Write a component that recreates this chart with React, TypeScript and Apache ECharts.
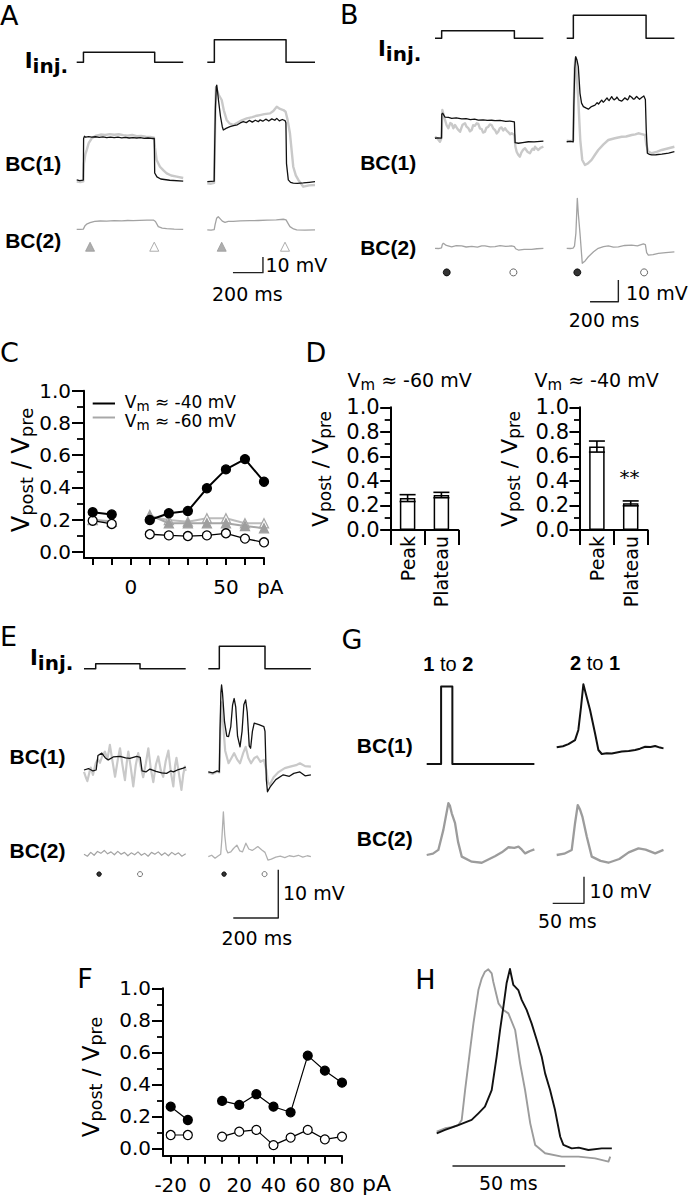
import React, { useEffect, useRef } from "react";
import * as echarts from "echarts";

type P = [number, number];

/* ================= Panel A (time ms, voltage mV, current pA) ================= */
const aInjLeft: P[] = [[0, 0], [45, 0], [45, 20], [520, 20], [520, 0], [710, 0]];
const aInjRight: P[] = [[0, 0], [47, 0], [47, 45], [525, 45], [525, 0], [718, 0]];
const aBc1LeftBlack: P[] = [[0,-60.4],[20,-60.8],[44,-60.5],[46,-34],[52,-32.6],[60,-33.2],[80,-32.8],[100,-33.2],[125,-32.9],[150,-33.3],[175,-33],[200,-33.4],[225,-33.1],[250,-33.5],[275,-33.2],[300,-33.6],[325,-33.3],[350,-33.7],[375,-33.4],[400,-33.7],[425,-33.5],[450,-33.9],[475,-33.7],[500,-34],[517,-34],[520,-56],[535,-58.5],[560,-59.8],[620,-60.6],[710,-61.2]];
const aBc1LeftGray: P[] = [[0,-61.5],[25,-61.8],[44,-61.3],[48,-50],[58,-44],[67,-41.3],[80,-37],[100,-33.9],[130,-32.2],[160,-31.5],[190,-31.8],[220,-31.2],[250,-31.6],[280,-31.3],[310,-31.9],[340,-32.2],[370,-31.8],[400,-32.5],[430,-32.4],[460,-32.9],[490,-33],[515,-33.5],[522,-40],[533,-47.7],[555,-52],[580,-54.5],[600,-56.2],[630,-57.6],[667,-58.3],[710,-59.2]];
const aBc1RightBlack: P[] = [[0,-61.5],[25,-61.3],[46,-61.2],[49,-40],[54,-15],[60,-1],[63,0],[67,-3],[75,-10],[88,-20],[100,-26.5],[107,-28.6],[125,-27.6],[151,-26.5],[175,-25.8],[200,-25.3],[220,-24.1],[240,-23.3],[260,-23.9],[280,-22.5],[300,-23.6],[320,-22.4],[340,-23.3],[351,-22.2],[370,-23],[390,-21.7],[410,-22.9],[430,-21.5],[450,-22.4],[463,-21.2],[480,-22.8],[500,-21.9],[518,-22.6],[524,-24],[528,-50],[540,-60.4],[555,-62],[573,-62.5],[600,-62.6],[640,-62.3],[680,-61.9],[718,-61.5]];
const aBc1RightGray: P[] = [[0,-62.5],[25,-62.8],[45,-62.3],[49,-45],[54,-12],[58,-1.4],[64,-3],[75,-6],[96,-9.5],[110,-16],[129,-22.2],[150,-24.6],[173,-25.4],[200,-24],[230,-22.4],[263,-21.2],[300,-20.4],[330,-19.5],[351,-19.1],[380,-18.5],[418,-18],[440,-16.5],[463,-13.8],[485,-15.2],[507,-15.9],[522,-17],[535,-22],[551,-30.7],[573,-52],[590,-57.5],[607,-60.4],[640,-64.7],[680,-63.9],[718,-63.6]];
const aBc2Left: P[] = [[0,-60],[25,-60.1],[44,-59.9],[55,-57.8],[70,-56.5],[89,-55.8],[120,-55],[156,-54.7],[200,-54.8],[250,-54.5],[300,-54.6],[340,-54.4],[376,-54.5],[420,-54.3],[470,-54.2],[511,-54.1],[525,-55],[544,-58.3],[570,-59.2],[600,-59.6],[650,-59.9],[710,-60]];
const aBc2Right: P[] = [[0,-60.4],[25,-60.5],[46,-60.2],[52,-57],[62,-53],[73,-52],[85,-53.2],[100,-54.8],[118,-55.6],[140,-55],[173,-54.9],[220,-54.6],[284,-54.5],[340,-54.4],[400,-54.2],[460,-54],[507,-53.6],[525,-54],[540,-56.5],[551,-58.3],[575,-59.8],[596,-60.4],[650,-60.5],[718,-60.4]];
const aPeakMarks = [89, 96];
const aPlateauMarks = [517, 518];

/* ================= Panel B ================= */
const bInjLeft: P[] = [[0, 0], [47, 0], [47, 15], [561, 15], [561, 0], [766, 0]];
const bInjRight: P[] = [[0, 0], [47, 0], [47, 46], [561, 46], [561, 0], [761, 0]];
const bBc1LeftBlack: P[] = [[0,-44.2],[20,-44],[46,-44.1],[48,-33],[55,-32.7],[71,-34.5],[95,-34.6],[118,-35],[150,-34.8],[189,-35.3],[220,-35.2],[250,-35.6],[280,-35.4],[306,-35.8],[340,-35.7],[370,-36],[400,-35.9],[424,-36.1],[460,-36],[500,-36.4],[530,-36.3],[561,-36.6],[566,-46.2],[589,-46.5],[620,-46.2],[660,-45.8],[700,-45.9],[766,-45.5]];
const bBc1LeftGray: P[] = [[0,-43.5],[20,-44.5],[35,-45.8],[46,-44],[52,-31.2],[63,-34],[71,-35.8],[82,-38.2],[94,-39.6],[108,-37.2],[118,-37.5],[130,-39.6],[141,-38.1],[152,-39.2],[160,-40],[177,-41.2],[186,-39.5],[195,-38],[212,-37.3],[222,-38.8],[235,-39.5],[247,-41],[259,-40.4],[270,-38.2],[280,-38.5],[295,-37.3],[306,-37.6],[318,-39.7],[330,-40],[340,-41.6],[353,-41.2],[363,-39.4],[375,-39],[388,-37.8],[400,-38.1],[413,-39.8],[425,-40.5],[436,-42],[447,-41.2],[458,-39.6],[470,-39.2],[482,-40.6],[495,-39.6],[508,-40.8],[520,-41.5],[531,-42.4],[542,-41.9],[561,-42.7],[568,-48],[577,-50.4],[588,-51.8],[600,-52.7],[610,-50.8],[618,-50],[628,-49.2],[636,-48.8],[646,-49.7],[655,-50.5],[671,-51.1],[680,-50],[690,-49],[700,-49.5],[707,-48.1],[718,-48.9],[730,-49.6],[745,-48.6],[766,-48.1]];
const bBc1RightBlack: P[] = [[0,-45.8],[25,-45.6],[46,-45.9],[50,-30],[57,-12],[64,-6.6],[72,-8],[82,-11.2],[94,-23.5],[105,-28],[118,-29.6],[135,-30.2],[153,-30.8],[175,-29.6],[200,-28.9],[215,-27.8],[225,-28.4],[247,-26.6],[258,-27.6],[265,-27.2],[285,-25.6],[293,-26.4],[300,-26.8],[318,-25],[327,-26],[335,-26.5],[348,-25.9],[355,-25.2],[370,-26.6],[389,-27.1],[402,-26.2],[410,-25.6],[430,-26.5],[437,-25.9],[445,-24.6],[459,-25.3],[472,-26.2],[480,-26],[494,-24.9],[503,-25.5],[515,-26.2],[530,-25.4],[545,-24.7],[556,-26.3],[562,-40],[570,-51.1],[585,-51.6],[601,-51.9],[630,-51.8],[672,-51.5],[720,-51],[761,-50.4]];
const bBc1RightGray: P[] = [[0,-45.3],[25,-45.5],[46,-45.2],[50,-30],[56,-12],[61,-7.3],[68,-12],[82,-26.6],[96,-45],[110,-54.2],[129,-56.5],[150,-55.8],[176,-54.2],[200,-51.8],[223,-49.6],[260,-47],[294,-45],[340,-44.2],[389,-43.5],[420,-43.4],[459,-42.7],[485,-42.4],[506,-41.9],[530,-42.3],[554,-42.7],[562,-47],[577,-50.4],[601,-51.1],[640,-50.4],[672,-49.6],[720,-48.8],[761,-48.1]];
const bBc2Left: P[] = [[0,-60],[25,-60.1],[46,-59.8],[52,-58.2],[59,-57.7],[80,-58.7],[118,-59.3],[150,-58.8],[189,-58.9],[220,-59.4],[260,-59.1],[300,-59.5],[330,-58.9],[353,-58.9],[390,-59.3],[424,-59.2],[460,-58.8],[500,-59.1],[542,-58.9],[561,-59.2],[570,-60.2],[589,-60.8],[630,-60.5],[683,-60.5],[720,-60.2],[766,-60]];
const bBc2Right: P[] = [[0,-60],[25,-60.1],[45,-59.9],[55,-59],[65,-53],[70,-45],[75,-37],[82,-44],[94,-53.1],[110,-66.9],[130,-65.8],[153,-63.9],[190,-61.6],[223,-60],[260,-59.2],[294,-58.9],[330,-59.5],[365,-59.3],[410,-58.7],[459,-58.5],[500,-58.9],[542,-58],[556,-58.3],[565,-62],[577,-63.1],[610,-62.9],[648,-62.3],[700,-62],[761,-61.6]];
const bPeakMarks = [83, 75];
const bPlateauMarks = [554, 547];

/* ================= Panel E ================= */
const eInjLeft: P[] = [[0, 0], [52, 0], [52, 10], [249, 10], [249, 0], [452, 0]];
const eInjRight: P[] = [[0, 0], [49, 0], [49, 45], [252, 45], [252, 0], [456, 0]];
const eBc1LeftBlack: P[] = [[0,-60],[20,-59.7],[40,-60.2],[54,-60],[62,-57],[79,-56.5],[95,-57.5],[108,-57.9],[130,-57.3],[160,-57.2],[185,-57.5],[204,-57.6],[234,-57.2],[250,-57.4],[258,-60.2],[275,-60.4],[293,-59.8],[320,-60.3],[345,-60.6],[367,-60.7],[385,-60.2],[397,-60.4],[420,-59.9],[441,-59.6],[452,-59.4]];
const eBc1LeftGray: P[] = [[0,-60.4],[8,-61.5],[15,-62.3],[24,-60.5],[30,-59.5],[40,-61],[52,-58.6],[62,-57.8],[71,-58.5],[82,-57],[93,-56.2],[104,-57.8],[115,-54.8],[126,-58],[138,-61.4],[149,-58.2],[160,-55.5],[171,-59],[182,-62.1],[190,-58.5],[197,-56.2],[208,-59.5],[219,-63.4],[230,-59],[241,-56.5],[252,-59.3],[263,-61.5],[275,-58.6],[286,-55.5],[297,-59.8],[308,-62.5],[320,-58.8],[330,-57.2],[341,-60],[352,-61.4],[363,-58.2],[375,-56],[386,-60.5],[397,-63.4],[405,-59],[411,-57.5],[422,-60.8],[433,-64.1],[441,-61],[448,-59.3],[452,-60.2]];
const eBc1RightBlack: P[] = [[0,-60.4],[20,-60.6],[40,-60.2],[49,-60.4],[52,-52],[56,-44],[59,-42.4],[63,-44],[72,-50],[82,-53],[90,-53.1],[100,-51],[108,-46.5],[115,-45.2],[122,-47],[130,-53],[141,-55.2],[150,-52],[158,-46.5],[166,-45.5],[173,-48],[182,-55],[188,-55.5],[196,-52],[204,-50.3],[225,-50.6],[247,-51],[252,-52],[258,-62],[263,-64.5],[275,-63.5],[300,-62],[333,-61],[360,-61.3],[380,-60.7],[407,-60.4],[430,-61.2],[456,-61]];
const eBc1RightGray: P[] = [[0,-60.5],[20,-60.8],[40,-60.3],[49,-60.5],[53,-52],[59,-46],[65,-50],[75,-56],[90,-58.6],[103,-57.5],[115,-56.5],[128,-57.8],[141,-58.6],[155,-56.5],[166,-55.2],[178,-57.5],[190,-58.6],[205,-57.5],[217,-57.2],[232,-58.3],[247,-57.9],[258,-60],[265,-62.5],[273,-63.1],[290,-61.5],[310,-60.5],[340,-59.6],[364,-59.3],[390,-59],[407,-58.6],[430,-59.2],[456,-59.3]];
const eBc2Left: P[] = [[0,-60],[15,-60.4],[30,-59.6],[45,-60.2],[60,-59.4],[75,-59.8],[90,-59.2],[105,-59.9],[120,-59.5],[135,-60.1],[150,-59.4],[165,-60],[180,-59.6],[195,-60.3],[210,-59.7],[225,-60.1],[240,-59.5],[255,-60.2],[270,-59.8],[285,-60.4],[300,-59.6],[315,-60],[330,-59.5],[345,-60.2],[360,-59.7],[375,-60.3],[390,-59.6],[405,-60.1],[420,-59.7],[435,-60.4],[452,-59.9]];
const eBc2Right: P[] = [[0,-60.5],[15,-60.2],[30,-60.8],[45,-60.3],[55,-60],[60,-57],[67,-51.2],[73,-56],[80,-59],[87,-59.7],[100,-59.5],[112,-58.8],[127,-58.1],[140,-59.3],[152,-59.5],[167,-57.7],[180,-58.9],[195,-59.2],[208,-58.8],[220,-58.4],[238,-59.1],[252,-59.6],[265,-61.2],[280,-61],[300,-60.6],[320,-60.4],[340,-60.7],[360,-60.3],[380,-60.5],[400,-60.2],[420,-60.6],[440,-60.3],[456,-60.5]];
const ePeakMarks = [67, 70];
const ePlateauMarks = [249, 250];

/* ================= Panel G ================= */
const gPulse12: P[] = [[0, 0], [23, 0], [23, 155], [41, 155], [41, 0], [172, 0]];
const gBc1From2: P[] = [[0,-59],[10,-58.6],[18.7,-57.8],[29.3,-56.3],[34.6,-52.5],[38.9,-43.8],[42.6,-35.4],[46.4,-38.8],[53.3,-45],[61.3,-53.8],[66.6,-60],[72,-61.5],[80,-61.2],[88,-61.3],[96,-60.9],[104,-60.6],[115,-60.4],[125.3,-60],[133,-59.5],[141.3,-58.8],[150,-58.9],[157.3,-58.5],[165,-59.1],[170.6,-59.4]];
const gBc2From1: P[] = [[0,-60],[10,-59.5],[18.6,-58.1],[26.6,-50.6],[34.6,-40.6],[37,-41.5],[40,-44.4],[45.3,-48.1],[50,-55],[56,-60.6],[72,-62.5],[88,-62.9],[109,-60.5],[120,-59],[130.6,-57.1],[140,-57.3],[146.6,-56.9],[152,-58],[157.3,-59.4],[165,-58.5],[172,-57.9]];
const gBc2Own: P[] = [[0,-60],[12,-59.5],[24,-58.1],[29.3,-48.1],[33.6,-41.3],[37.3,-43],[41,-45.6],[48,-53.1],[56,-60.6],[70,-62.2],[82.6,-62.9],[100,-61.5],[115,-59],[130.6,-57.5],[142,-58],[157.3,-59.4],[170.6,-58.1]];

/* ================= Panel H (normalized amplitude) ================= */
const hBc2: P[] = [[0,0.049],[3.7,0.069],[6.7,0.075],[9.6,0.088],[11.1,0.118],[12.6,0.294],[14.8,0.529],[16.3,0.686],[18.5,0.882],[20,0.951],[21.4,0.99],[22.9,1.004],[24.4,0.98],[25.1,0.931],[27.4,0.804],[29.6,0.765],[31.8,0.745],[34.8,0.647],[37,0.451],[39.2,0.294],[41.5,0.098],[43.7,-0.029],[48.1,-0.078],[55.5,-0.098],[62.9,-0.098],[70.3,-0.108],[76.2,-0.127],[77,-0.098]];
const hBc1: P[] = [[0,0.039],[3.7,0.059],[9.6,0.088],[15.5,0.118],[18.5,0.157],[21.4,0.196],[24.4,0.294],[26.6,0.49],[28.1,0.647],[29.6,0.784],[31,0.922],[32.5,1.006],[34,0.912],[36.2,0.882],[37.7,0.824],[39.9,0.765],[42.1,0.686],[44.4,0.588],[46.6,0.49],[48.1,0.392],[50.3,0.294],[52.5,0.176],[54.8,0.019],[56.2,-0.029],[59.9,-0.049],[63,-0.045],[67.3,-0.059],[73.2,-0.049],[77.7,-0.049]];

/* ================= Panel C ================= */
const cCurrents = [-20, -10, 10, 20, 30, 40, 50, 60, 70];
const cPeak40 = [0.246, 0.233, 0.198, 0.24, 0.254, 0.395, 0.512, 0.576, 0.436];
const cPlateau40 = [0.194, 0.174, 0.11, 0.103, 0.099, 0.103, 0.116, 0.083, 0.06];
const cPeak60 = [0.198, 0.188, 0.229, 0.178, 0.178, 0.178, 0.178, 0.161, 0.147];
const cPlateau60 = [0.2, 0.19, 0.22, 0.198, 0.188, 0.209, 0.209, 0.178, 0.178];
const cXTicks = [-20, -10, 0, 10, 20, 30, 40, 50, 60, 70];
const cXLabels = [0, 50];

/* ================= Panel D ================= */
const dCategories = ["Peak", "Plateau"];
const dMean60 = [0.26, 0.285];
const dErr60 = [0.028, 0.022];
const dMean40 = [0.68, 0.217];
const dErr40 = [0.045, 0.02];

/* ================= Panel F ================= */
const fCurrents = [-20, -10, 10, 20, 30, 40, 50, 60, 70, 80];
const fPeak = [0.26, 0.177, 0.296, 0.271, 0.338, 0.26, 0.225, 0.579, 0.485, 0.41];
const fPlateau = [0.083, 0.083, 0.073, 0.104, 0.115, 0.02, 0.067, 0.115, 0.056, 0.073];
const fXTicks = [-20, -10, 0, 10, 20, 30, 40, 50, 60, 70, 80];
const fXLabels = [-20, 0, 20, 40, 60, 80];

const yMajor = [0, 0.2, 0.4, 0.6, 0.8, 1.0];
const yMinor = [0.1, 0.3, 0.5, 0.7, 0.9];

const REG = "DejaVu Sans";
const ARIAL = "Liberation Sans";
const BLACK = "#111";
const LIGHT = "#c9c9c9";
const MID = "#a3a3a3";

type Frame = { l: number; t: number; w: number; h: number; x0: number; kx: number; y0: number; v0: number; ky: number };

function buildOption() {
  const grid: any[] = [];
  const xAxis: any[] = [];
  const yAxis: any[] = [];
  const series: any[] = [];
  const graphic: any[] = [];

  const traceGrid = (f: Frame) => {
    const gi = grid.length;
    grid.push({ left: f.l, top: f.t, width: f.w, height: f.h });
    const xi = xAxis.length;
    xAxis.push({ type: "value", gridIndex: gi, show: false, min: (f.l - f.x0) * f.kx, max: (f.l + f.w - f.x0) * f.kx, splitLine: { show: false } });
    const yi = yAxis.length;
    yAxis.push({ type: "value", gridIndex: gi, show: false, min: f.v0 - (f.t + f.h - f.y0) * f.ky, max: f.v0 + (f.y0 - f.t) * f.ky, splitLine: { show: false } });
    return { xi, yi };
  };
  const line = (ax: any, data: any[], color: string, width: number, z = 2) => {
    series.push({ type: "line", xAxisIndex: ax.xi, yAxisIndex: ax.yi, data, symbol: "none", showSymbol: false, silent: true, clip: false, z, lineStyle: { color, width, join: "round" } });
  };
  const marks = (ax: any, times: number[], level: number, symbol: string, fill: string, stroke: string, size: number) => {
    series.push({ type: "scatter", xAxisIndex: ax.xi, yAxisIndex: ax.yi, data: times.map((t) => [t, level]), symbol, symbolSize: size, silent: true, z: 3, itemStyle: { color: fill, borderColor: stroke, borderWidth: 1 } });
  };
  const scaleBar = (ax: any, t0: number, v0: number, dt: number, dv: number) => {
    const d: P[] = dv ? [[t0, v0], [t0 + dt, v0], [t0 + dt, v0 + dv]] : [[t0, v0], [t0 + dt, v0]];
    line(ax, d, "#222", 1.4, 4);
  };

  /* ---- A ---- */
  const kxA = 200 / 30, kyA = 10 / 15.7;
  const aIL = traceGrid({ l: 70, t: 28, w: 118, h: 40, x0: 76.7, kx: kxA, y0: 62.3, v0: 0, ky: 2 });
  const aIR = traceGrid({ l: 200, t: 28, w: 120, h: 40, x0: 207.3, kx: kxA, y0: 62.3, v0: 0, ky: 2 });
  line(aIL, aInjLeft, BLACK, 1.5);
  line(aIR, aInjRight, BLACK, 1.5);
  const a1L = traceGrid({ l: 70, t: 75, w: 118, h: 120, x0: 76.7, kx: kxA, y0: 195, v0: -70, ky: kyA });
  const a1R = traceGrid({ l: 200, t: 75, w: 120, h: 120, x0: 207.3, kx: kxA, y0: 195, v0: -70, ky: kyA });
  line(a1L, aBc1LeftGray, LIGHT, 2.4);
  line(a1L, aBc1LeftBlack, BLACK, 1.3, 3);
  line(a1R, aBc1RightGray, LIGHT, 2.4);
  line(a1R, aBc1RightBlack, BLACK, 1.3, 3);
  const a2L = traceGrid({ l: 70, t: 205, w: 118, h: 80, x0: 76.7, kx: kxA, y0: 229.3, v0: -60, ky: kyA });
  const a2R = traceGrid({ l: 200, t: 205, w: 120, h: 80, x0: 207.3, kx: kxA, y0: 229.3, v0: -60, ky: kyA });
  line(a2L, aBc2Left, MID, 1.3);
  line(a2R, aBc2Right, MID, 1.3);
  marks(a2L, [aPeakMarks[0]], -71.1, "triangle", "#9a9a9a", "#9a9a9a", 9);
  marks(a2L, [aPlateauMarks[0]], -71.1, "triangle", "#fff", "#9a9a9a", 9);
  marks(a2R, [aPeakMarks[1]], -71.1, "triangle", "#9a9a9a", "#9a9a9a", 9);
  marks(a2R, [aPlateauMarks[1]], -71.1, "triangle", "#fff", "#9a9a9a", 9);
  scaleBar(a2R, 171, -87.6, 200, 10);

  /* ---- B ---- */
  const kxB = 200 / 28.3, kyB = 10 / 21.7;
  const bIL = traceGrid({ l: 430, t: 8, w: 118, h: 36, x0: 435, kx: kxB, y0: 38.3, v0: 0, ky: 2 });
  const bIR = traceGrid({ l: 560, t: 8, w: 120, h: 36, x0: 566.7, kx: kxB, y0: 38.3, v0: 0, ky: 2 });
  line(bIL, bInjLeft, BLACK, 1.5);
  line(bIR, bInjRight, BLACK, 1.5);
  const b1L = traceGrid({ l: 430, t: 50, w: 118, h: 125, x0: 435, kx: kxB, y0: 140, v0: -45, ky: kyB });
  const b1R = traceGrid({ l: 560, t: 50, w: 120, h: 125, x0: 566.7, kx: kxB, y0: 140, v0: -45, ky: kyB });
  line(b1L, bBc1LeftGray, LIGHT, 2.4);
  line(b1L, bBc1LeftBlack, BLACK, 1.3, 3);
  line(b1R, bBc1RightGray, LIGHT, 2.4);
  line(b1R, bBc1RightBlack, BLACK, 1.3, 3);
  const b2L = traceGrid({ l: 430, t: 190, w: 118, h: 90, x0: 435, kx: kxB, y0: 248.3, v0: -60, ky: kyB });
  const b2R = traceGrid({ l: 560, t: 190, w: 125, h: 115, x0: 566.7, kx: kxB, y0: 248.3, v0: -60, ky: kyB });
  line(b2L, bBc2Left, MID, 1.3);
  line(b2R, bBc2Right, MID, 1.3);
  marks(b2L, [bPeakMarks[0]], -71.1, "circle", "#000", "#000", 7);
  marks(b2L, [bPlateauMarks[0]], -71.1, "circle", "#fff", "#444", 7);
  marks(b2R, [bPeakMarks[1]], -71.1, "circle", "#000", "#000", 7);
  marks(b2R, [bPlateauMarks[1]], -71.1, "circle", "#fff", "#444", 7);
  scaleBar(b2R, 165, -84.6, 200, 10);

  /* ---- E ---- */
  const kxE = 200 / 45, kyE = 10 / 48.3;
  const eIL = traceGrid({ l: 78, t: 640, w: 112, h: 34, x0: 84, kx: kxE, y0: 668.7, v0: 0, ky: 2 });
  const eIR = traceGrid({ l: 202, t: 640, w: 115, h: 34, x0: 208.3, kx: kxE, y0: 668.7, v0: 0, ky: 2 });
  line(eIL, eInjLeft, BLACK, 1.5);
  line(eIR, eInjRight, BLACK, 1.5);
  const e1L = traceGrid({ l: 78, t: 675, w: 112, h: 125, x0: 84, kx: kxE, y0: 770, v0: -60, ky: kyE });
  const e1R = traceGrid({ l: 202, t: 675, w: 115, h: 125, x0: 208.3, kx: kxE, y0: 770, v0: -60, ky: kyE });
  line(e1L, eBc1LeftGray, LIGHT, 2.2);
  line(e1L, eBc1LeftBlack, BLACK, 1.3, 3);
  line(e1R, eBc1RightGray, LIGHT, 2.2);
  line(e1R, eBc1RightBlack, BLACK, 1.3, 3);
  const e2L = traceGrid({ l: 78, t: 800, w: 112, h: 82, x0: 84, kx: kxE, y0: 854.3, v0: -60, ky: kyE });
  const e2R = traceGrid({ l: 202, t: 800, w: 120, h: 125, x0: 208.3, kx: kxE, y0: 854.3, v0: -60, ky: kyE });
  line(e2L, eBc2Left, MID, 1.2);
  line(e2R, eBc2Right, "#b0b0b0", 1.3);
  marks(e2L, [ePeakMarks[0]], -64.1, "circle", "#000", "#000", 4.5);
  marks(e2L, [ePlateauMarks[0]], -64.1, "circle", "#fff", "#555", 5);
  marks(e2R, [ePeakMarks[1]], -64.1, "circle", "#000", "#000", 4.5);
  marks(e2R, [ePlateauMarks[1]], -64.1, "circle", "#fff", "#555", 5);
  scaleBar(e2R, 111, -73.2, 200, 10);

  /* ---- G ---- */
  const kxG = 50 / 31.3, kyG = 10 / 26.7;
  const g1L = traceGrid({ l: 420, t: 680, w: 120, h: 90, x0: 426.7, kx: kxG, y0: 764, v0: 0, ky: 2 });
  const g1R = traceGrid({ l: 550, t: 675, w: 120, h: 90, x0: 556.7, kx: kxG, y0: 750, v0: -60, ky: kyG });
  const g2L = traceGrid({ l: 420, t: 795, w: 120, h: 75, x0: 426.7, kx: kxG, y0: 855, v0: -60, ky: kyG });
  const g2R = traceGrid({ l: 548, t: 795, w: 122, h: 115, x0: 556.7, kx: kxG, y0: 855, v0: -60, ky: kyG });
  line(g1L, gPulse12, BLACK, 2);
  line(g1R, gBc1From2, BLACK, 2);
  line(g2L, gBc2From1, "#9c9c9c", 2.3);
  line(g2R, gBc2Own, "#9c9c9c", 2.3);
  scaleBar(g2R, -6.4, -78.1, 50, 10);

  /* ---- H ---- */
  const hA = traceGrid({ l: 430, t: 960, w: 190, h: 215, x0: 436.7, kx: 50 / 112.7, y0: 1140, v0: 0, ky: 1 / 170 });
  line(hA, hBc2, "#9c9c9c", 1.9);
  line(hA, hBc1, BLACK, 1.9, 3);
  scaleBar(hA, 7, -0.153, 50, 0);

  /* ---- axis helpers for C and F ---- */
  const axisLine = (w: number) => ({ show: true, onZero: false, lineStyle: { color: "#000", width: w } });
  const split = (xs: number[], ys: number[]) => {
    const l: P[] = [], r: P[] = [];
    xs.forEach((x, i) => (x < 0 ? l : r).push([x, ys[i]]));
    return [l, r];
  };

  /* ---- C ---- */
  const cG = grid.length;
  grid.push({ left: 84, top: 390.7, width: 180, height: 167.3 });
  const cX = xAxis.length;
  xAxis.push({
    type: "value", gridIndex: cG, min: -24.57, max: 70, axisLine: axisLine(2), splitLine: { show: false },
    axisTick: { show: true, length: 7, customValues: cXTicks, lineStyle: { color: "#000", width: 2 } },
    axisLabel: { customValues: cXLabels, fontSize: 20, fontFamily: REG, color: "#000", margin: 19 },
  });
  const cY = yAxis.length;
  yAxis.push({
    type: "value", gridIndex: cG, position: "left", min: -0.0372, max: 1, axisLine: axisLine(2), splitLine: { show: false },
    axisTick: { show: true, length: 12, customValues: yMajor, lineStyle: { color: "#000", width: 2 } },
    axisLabel: { customValues: yMajor, formatter: (v: number) => v.toFixed(1), fontSize: 20, fontFamily: REG, color: "#000", margin: 13 },
  });
  yAxis.push({
    type: "value", gridIndex: cG, position: "left", min: -0.0372, max: 1, axisLine: { show: false, onZero: false }, splitLine: { show: false },
    axisTick: { show: true, length: 7, customValues: yMinor, lineStyle: { color: "#000", width: 1.8 } }, axisLabel: { show: false },
  });
  const cLine = (ys: number[], lc: string, lw: number, sym: string, fill: string, stroke: string, z: number) => {
    split(cCurrents, ys).forEach((d) =>
      series.push({ type: "line", xAxisIndex: cX, yAxisIndex: cY, data: d, symbol: sym, symbolSize: 9, showSymbol: true, silent: true, z,
        lineStyle: { color: lc, width: lw }, itemStyle: { color: fill, borderColor: stroke, borderWidth: 1.3 } })
    );
  };
  cLine(cPlateau60, "#bcbcbc", 2, "triangle", "#fff", "#a8a8a8", 2);
  cLine(cPeak60, "#a6a6a6", 2, "triangle", "#9e9e9e", "#9e9e9e", 3);
  cLine(cPlateau40, "#000", 1.3, "circle", "#fff", "#000", 4);
  cLine(cPeak40, "#000", 2, "circle", "#000", "#000", 5);

  /* ---- D ---- */
  const dPanel = (left: number, means: number[], errs: number[]) => {
    const g = grid.length;
    grid.push({ left, top: 407.3, width: 67.6, height: 122.7 });
    const xi = xAxis.length;
    xAxis.push({
      type: "category", gridIndex: g, data: dCategories, axisLine: { show: true, lineStyle: { color: "#000", width: 2 } },
      axisTick: { show: true, length: 15, interval: 0, alignWithLabel: false, lineStyle: { color: "#000", width: 2 } },
      axisLabel: { rotate: 90, interval: 0, fontSize: 19, fontFamily: REG, color: "#000", margin: 6 },
    });
    const yi = yAxis.length;
    yAxis.push({
      type: "value", gridIndex: g, min: 0, max: 1, interval: 0.2, axisLine: { show: true, lineStyle: { color: "#000", width: 2 } },
      axisTick: { show: true, length: 10.5, lineStyle: { color: "#000", width: 2 } },
      minorTick: { show: true, splitNumber: 2, length: 6, lineStyle: { color: "#000", width: 1.8 } },
      splitLine: { show: false }, minorSplitLine: { show: false },
      axisLabel: { formatter: (v: number) => v.toFixed(1), fontSize: 21, fontFamily: REG, color: "#000", margin: 11 },
    });
    series.push({ type: "bar", xAxisIndex: xi, yAxisIndex: yi, data: means, barWidth: 15.5, silent: true,
      itemStyle: { color: "#fff", borderColor: "#000", borderWidth: 1.5 } });
    series.push({
      type: "custom", xAxisIndex: xi, yAxisIndex: yi, silent: true, z: 5,
      data: means.map((m, i) => [i, m, errs[i]]),
      renderItem: (_p: any, api: any) => {
        const i = api.value(0), m = api.value(1), e = api.value(2);
        const a = api.coord([i, m + e]);
        const b = api.coord([i, m - e]);
        const hw = 8;
        const st = { stroke: "#000", lineWidth: 1.6 };
        return { type: "group", children: [
          { type: "line", shape: { x1: a[0], y1: a[1], x2: b[0], y2: b[1] }, style: st },
          { type: "line", shape: { x1: a[0] - hw, y1: a[1], x2: a[0] + hw, y2: a[1] }, style: st },
          { type: "line", shape: { x1: b[0] - hw, y1: b[1], x2: b[0] + hw, y2: b[1] }, style: st },
        ] };
      },
    });
  };
  dPanel(390.7, dMean60, dErr60);
  dPanel(580, dMean40, dErr40);

  /* ---- F ---- */
  const fG = grid.length;
  grid.push({ left: 163, top: 988.3, width: 179, height: 167.4 });
  const fX = xAxis.length;
  xAxis.push({
    type: "value", gridIndex: fG, min: -24.5, max: 80, axisLine: axisLine(2), splitLine: { show: false },
    axisTick: { show: true, length: 8, customValues: fXTicks, lineStyle: { color: "#000", width: 2 } },
    axisLabel: { customValues: fXLabels, fontSize: 20, fontFamily: REG, color: "#000", margin: 19 },
  });
  const fY = yAxis.length;
  yAxis.push({
    type: "value", gridIndex: fG, position: "left", min: -0.04625, max: 1, axisLine: axisLine(2), splitLine: { show: false },
    axisTick: { show: true, length: 11, customValues: yMajor, lineStyle: { color: "#000", width: 2 } },
    axisLabel: { customValues: yMajor, formatter: (v: number) => v.toFixed(1), fontSize: 20, fontFamily: REG, color: "#000", margin: 12 },
  });
  yAxis.push({
    type: "value", gridIndex: fG, position: "left", min: -0.04625, max: 1, axisLine: { show: false, onZero: false }, splitLine: { show: false },
    axisTick: { show: true, length: 6, customValues: yMinor, lineStyle: { color: "#000", width: 1.8 } }, axisLabel: { show: false },
  });
  const fLine = (ys: number[], fill: string) => {
    split(fCurrents, ys).forEach((d) =>
      series.push({ type: "line", xAxisIndex: fX, yAxisIndex: fY, data: d, symbol: "circle", symbolSize: 9, showSymbol: true, silent: true, z: 3,
        lineStyle: { color: "#000", width: 1.2 }, itemStyle: { color: fill, borderColor: "#000", borderWidth: 1.2 } })
    );
  };
  fLine(fPlateau, "#fff");
  fLine(fPeak, "#000");

  /* ---- texts ---- */
  const txt = (x: number, y: number, text: string, size: number, o: any = {}) => {
    graphic.push({
      type: "text", x, y, rotation: o.rot || 0, silent: true, z: 10,
      style: {
        text, fontSize: size, fontFamily: o.family || REG, fontWeight: o.weight || "normal", fill: "#000",
        align: o.align || "left", verticalAlign: "middle", textAlign: o.align || "left", textVerticalAlign: "middle",
        rich: o.rich,
      },
    });
  };
  // subscript: main token gets a tall line box, subscript token sits at the bottom of it -> shifted down by `shift`
  const subRich = (main: number, sub: number, shift: number, family = REG, weight = "normal") => {
    const L = Math.max(main, sub + 2 * shift);
    return {
      v: { fontSize: main, fontFamily: family, fontWeight: weight, lineHeight: L, verticalAlign: "middle" },
      s: { fontSize: sub, fontFamily: family, fontWeight: weight, lineHeight: sub, verticalAlign: "bottom" },
    };
  };

  // panel letters
  ([["A", 0, 15], ["B", 340, 14], ["C", 0, 352], ["D", 305.6, 352], ["E", 0, 636], ["F", 77.3, 978], ["G", 341.5, 639], ["H", 415.3, 979]] as any[])
    .forEach(([s, x, y]) => txt(x, y, s, 27));
  // Iinj labels
  ([[24.8, 61], [378, 49], [30, 657.5]] as any[]).forEach(([x, y]) =>
    txt(x, y, "{v|I}{s|inj.}", 21, { rich: subRich(21, 20, 5, REG, "bold"), weight: "bold" }));
  // cell labels
  ([["BC(1)", 5.2, 163], ["BC(2)", 5.2, 240], ["BC(1)", 360.2, 162.5], ["BC(2)", 360.2, 247.5], ["BC(1)", 9.5, 756.7], ["BC(2)", 9.5, 850], ["BC(1)", 356.8, 745], ["BC(2)", 356.8, 838.3]] as any[])
    .forEach(([s, x, y]) => txt(x, y, s, 21, { family: ARIAL, weight: "bold" }));
  // scale bar labels
  ([["10 mV", 265.5, 265], ["200 ms", 212, 294], ["10 mV", 626, 293.3], ["200 ms", 568.7, 320], ["10 mV", 283, 893.3], ["200 ms", 221.4, 938.3], ["10 mV", 589.6, 890.7], ["50 ms", 538, 920.7]] as any[])
    .forEach(([s, x, y]) => txt(x, y, s, 19));
  txt(508.3, 1183.3, "50 ms", 19, { align: "center" });
  // G titles
  const gRich = { b: { fontSize: 20, fontFamily: ARIAL, fontWeight: "bold" }, n: { fontSize: 20, fontFamily: ARIAL } };
  txt(448.3, 664, "{b|1}{n| to }{b|2}", 20, { align: "center", family: ARIAL, rich: gRich });
  txt(595, 663, "{b|2}{n| to }{b|1}", 20, { align: "center", family: ARIAL, rich: gRich });
  // D titles
  txt(347.5, 380, "{v|V}{s|m}{v| ≈ -60 mV}", 19, { rich: subRich(19, 15, 4.5) });
  txt(534.5, 380, "{v|V}{s|m}{v| ≈ -40 mV}", 19, { rich: subRich(19, 15, 4.5) });
  txt(629.5, 477, "**", 20, { align: "center" });
  // C legend
  graphic.push({ type: "line", silent: true, shape: { x1: 92.7, y1: 403.5, x2: 115, y2: 403.5 }, style: { stroke: "#000", lineWidth: 2 } });
  graphic.push({ type: "line", silent: true, shape: { x1: 92.7, y1: 417.5, x2: 115, y2: 417.5 }, style: { stroke: "#a8a8a8", lineWidth: 2 } });
  txt(124.8, 402, "{v|V}{s|m}{v| ≈ -40 mV}", 17, { rich: subRich(17, 13.5, 4) });
  txt(124.8, 421, "{v|V}{s|m}{v| ≈ -60 mV}", 17, { rich: subRich(17, 13.5, 4) });
  // y-axis names
  const yName = "{v|V}{s|post}{v| / V}{s|pre}";
  txt(21, 470, yName, 24, { align: "center", rot: Math.PI / 2, rich: subRich(24, 18, 5) });
  txt(320, 469, yName, 22, { align: "center", rot: Math.PI / 2, rich: subRich(22, 17, 5) });
  txt(509, 469, yName, 22, { align: "center", rot: Math.PI / 2, rich: subRich(22, 17, 5) });
  txt(91, 1077, yName, 23, { align: "center", rot: Math.PI / 2, rich: subRich(23, 17.5, 5) });
  // unit labels
  txt(257, 587, "pA", 20);
  txt(362, 1183, "pA", 22);

  return { animation: false, backgroundColor: "#fff", grid, xAxis, yAxis, series, graphic };
}

export default function App() {
  const ref = useRef<HTMLDivElement>(null);
  useEffect(() => {
    if (!ref.current) return;
    const chart = echarts.init(ref.current, undefined, { renderer: "svg" });
    chart.setOption(buildOption() as any);
    return () => chart.dispose();
  }, []);
  return <div ref={ref} style={{ position: "absolute", left: 0, top: 0, width: 691, height: 1199, background: "#fff" }} />;
}
